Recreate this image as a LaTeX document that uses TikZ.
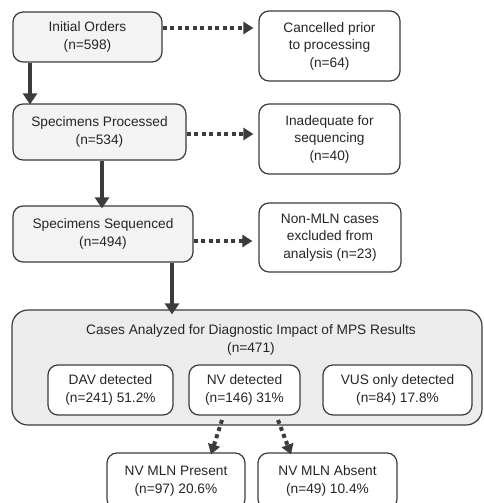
\documentclass[tikz,border=0pt]{standalone}
\usepackage{fontspec}
\setmainfont{Liberation Sans}
\usetikzlibrary{arrows.meta}
\definecolor{linec}{HTML}{3C3C3C}
\definecolor{boxgray}{HTML}{F3F3F3}
\definecolor{biggray}{HTML}{ECECEC}
\begin{document}
\begin{tikzpicture}[x=1pt,y=-1pt,
  box/.style={draw=linec, line width=1.2pt, rounded corners=10pt, align=center, inner sep=0pt,
    font=\fontsize{13.7}{17.5}\selectfont, text=black!85},
  graybox/.style={box, fill=boxgray},
  whitebox/.style={box, fill=white},
  solidarrow/.style={draw=linec, line width=4.5pt, -{Triangle[length=11pt,width=14pt]}},
  dotarrow/.style={draw=linec, line width=4pt, dash pattern=on 4pt off 3.5pt, -{Triangle[length=10pt,width=12pt]}}
]
\useasboundingbox (0,0) rectangle (484,503);
\clip (0,0) rectangle (484,503);
\fill[white] (0,0) rectangle (484,503);

\node[graybox, minimum width=149pt, minimum height=50pt] (init) at (87.5,37) {Initial Orders\\(n=598)};
\node[whitebox, minimum width=141pt, minimum height=70pt] (cancel) at (329.5,46) {Cancelled prior\\to processing\\(n=64)};
\node[graybox, minimum width=173pt, minimum height=56pt] (proc) at (99.5,132) {Specimens Processed\\(n=534)};
\node[whitebox, minimum width=141pt, minimum height=70pt] (inad) at (329.5,139) {Inadequate for\\sequencing\\(n=40)};
\node[graybox, minimum width=180pt, minimum height=56pt] (seq) at (103,234) {Specimens Sequenced\\(n=494)};
\node[whitebox, minimum width=142pt, minimum height=69pt] (nonmln) at (330,237.5) {Non-MLN cases\\excluded from\\analysis (n=23)};

\node[box, fill=biggray, minimum width=470pt, minimum height=115pt, rounded corners=16pt] (big) at (247,367.5) {};
\node[font=\fontsize{13.7}{17.5}\selectfont, text=black!85, align=center] (bigtitle) at (251,340) {Cases Analyzed for Diagnostic Impact of MPS Results\\(n=471)};
\node[whitebox, minimum width=125pt, minimum height=50pt] (dav) at (110.5,390) {DAV detected\\(n=241) 51.2\%};
\node[whitebox, minimum width=111pt, minimum height=50pt] (nv) at (244.5,390) {NV detected\\(n=146) 31\%};
\node[whitebox, minimum width=149pt, minimum height=50pt] (vus) at (397.5,390) {VUS only detected\\(n=84) 17.8\%};

\node[whitebox, minimum width=138pt, minimum height=56pt] (pres) at (176,481) {NV MLN Present\\(n=97) 20.6\%};
\node[whitebox, minimum width=139pt, minimum height=56pt] (abs) at (327.5,481) {NV MLN Absent\\(n=49) 10.4\%};

\draw[dotarrow] (init.east |- 0,28) -- ([xshift=-5pt]cancel.west |- 0,28);
\draw[dotarrow] (proc.east |- 0,134) -- ([xshift=-5pt]inad.west |- 0,134);
\draw[dotarrow] (seq.east |- 0,241) -- ([xshift=-6pt]nonmln.west |- 0,241);

\draw[solidarrow] (init.south -| 30,0) -- ([yshift=-1pt]proc.north -| 30,0);
\draw[solidarrow] (proc.south -| 102,0) -- ([yshift=-3pt]seq.north -| 102,0);
\draw[solidarrow] (seq.south -| 172,0) -- ([yshift=-5pt]big.north -| 172,0);

\coordinate (d1) at (222,420);
\coordinate (d2) at (278,420);
\draw[dotarrow] (d1) -- ([yshift=-2pt]pres.north -| 211,0);
\draw[dotarrow] (d2) -- ([yshift=-2pt]abs.north -| 291,0);
\end{tikzpicture}
\end{document}
